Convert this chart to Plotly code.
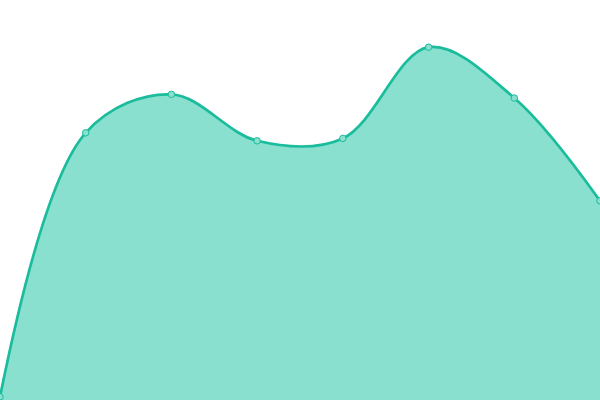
import plotly.graph_objects as go

# values, on a 0-100 scale
labels = ['1', '2', '3', '4', '5', '6', '7', '8']
values = [0.8, 66.8, 76.4, 64.8, 65.4, 88.2, 75.5, 49.8]

line_color = '#1abc9c'
fill_color = '#89e0cf'

fig = go.Figure()

fig.add_trace(go.Scatter(
    x=list(range(len(labels))),
    y=values,
    mode='lines+markers',
    line=dict(color=line_color, width=2.7, shape='spline', smoothing=1.0),
    fill='tozeroy',
    fillcolor=fill_color,
    marker=dict(size=6.5, color=fill_color, line=dict(color=line_color, width=1)),
    hoverinfo='skip',
))

fig.update_layout(
    width=600,
    height=400,
    margin=dict(l=0, r=0, t=0, b=0),
    paper_bgcolor='white',
    plot_bgcolor='white',
    showlegend=False,
    xaxis=dict(visible=False, range=[0, len(labels) - 1]),
    yaxis=dict(visible=False, range=[0, 100]),
)

# drop the browser's default body margin so the chart sits at the window edge
fig.write_html(
    "out.html",
    config={'displayModeBar': False},
    post_script="document.body.style.margin='0';",
)
